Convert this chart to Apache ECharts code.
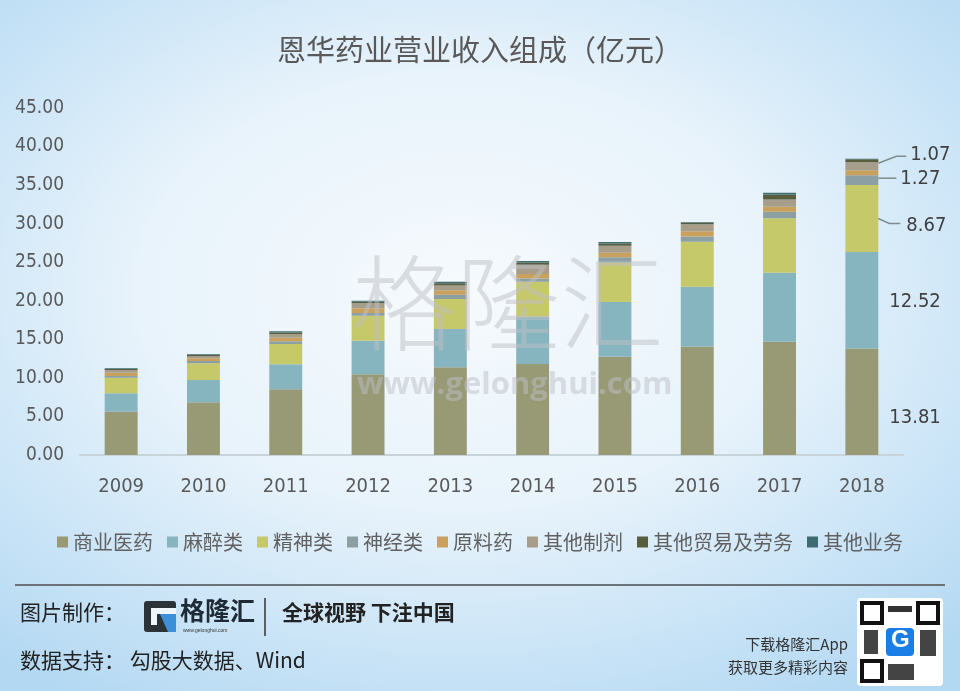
<!DOCTYPE html>
<html>
<head>
<meta charset="utf-8">
<script src="https://cdn.jsdelivr.net/npm/echarts@6/dist/echarts.min.js"></script>
<style>
html,body{margin:0;padding:0;}
body{width:960px;height:691px;overflow:hidden;
	background:radial-gradient(ellipse 75% 70% at 48% 42%, #f6fafd 0%, #e8f3fb 45%, #c6e2f6 80%, #b3d8f2 100%);}
#main{width:960px;height:691px;}
</style>
</head>
<body>
<div id="main"></div>
<script>
// 年份
var years=['2009','2010','2011','2012','2013','2014','2015','2016','2017','2018'];
// 各业务收入（亿元）
var shangye  =[5.62,6.83,8.52,10.47,11.37,11.80,12.75,14.05,14.70,13.81];
var mazui    =[2.38,2.90,3.24,4.36,4.97,6.14,7.09,7.78,8.95,12.52];
var jingshen =[2.03,2.16,2.64,3.24,3.89,4.54,5.10,5.84,7.05,8.67];
var shenjing =[0.20,0.30,0.35,0.35,0.55,0.40,0.70,0.65,0.85,1.27];
var yuanliao =[0.45,0.35,0.45,0.60,0.60,0.60,0.60,0.70,0.65,0.65];
var zhiji    =[0.35,0.30,0.50,0.65,0.60,1.20,0.90,0.90,0.95,1.07];
var maoyi    =[0.12,0.12,0.20,0.22,0.30,0.30,0.30,0.16,0.62,0.35];
var yewu     =[0.09,0.10,0.14,0.11,0.20,0.18,0.19,0.10,0.25,0.07];
var names=['商业医药','麻醉类','精神类','神经类','原料药','其他制剂','其他贸易及劳务','其他业务'];
var colors=['#979a74','#87b5bf','#c6c96a','#8c9fa3','#c9a15c','#a69e8a','#575e3e','#3d6d70'];
var yTicks=[0,5,10,15,20,25,30,35,40,45];

var numFont="'Liberation Sans Narrow','DejaVu Sans Condensed',sans-serif";
var cnFont="'Noto Sans CJK SC',sans-serif";

var allData=[shangye,mazui,jingshen,shenjing,yuanliao,zhiji,maoyi,yewu];
var series=[];
for(var i=0;i<names.length;i++){
	series.push({
		name:names[i],
		type:'bar',
		stack:'total',
		barWidth:'40%',
		itemStyle:{color:colors[i]},
		data:allData[i]
	});
}

var myChart=echarts.init(document.getElementById('main'),null,{renderer:'canvas'});
var option={
	backgroundColor:'transparent',
	animation:false,
	title:{
		text:'恩华药业营业收入组成（亿元）',
		left:'center',
		top:30,
		textStyle:{fontFamily:cnFont,fontSize:29,fontWeight:'normal',color:'#595959'}
	},
	grid:{left:80,right:57,top:108,bottom:236},
	legend:{
		data:names,
		left:'center',
		top:527,
		itemWidth:11,
		itemHeight:11,
		itemGap:14,
		icon:'rect',
		textStyle:{fontFamily:cnFont,fontSize:20,color:'#606060'}
	},
	xAxis:{
		type:'category',
		data:years,
		axisLine:{lineStyle:{color:'#c9d4da',width:2}},
		axisTick:{show:false},
		axisLabel:{margin:22,fontFamily:numFont,fontSize:20,color:'#595959'}
	},
	yAxis:{
		type:'value',
		min:yTicks[0],
		max:yTicks[yTicks.length-1],
		interval:5,
		axisLine:{show:false},
		axisTick:{show:false},
		splitLine:{show:false},
		axisLabel:{margin:16,fontFamily:numFont,fontSize:19,color:'#595959',
			formatter:function(v){return v.toFixed(2);}}
	},
	series:series
};
myChart.setOption(option);

// 2018年的数值标注，位置由坐标轴换算
var last=years.length-1;
var p0=myChart.convertToPixel({gridIndex:0},[years[last],0]);
var catW=myChart.getModel().getComponent('xAxis',0).axis.getBandWidth();
var xr=p0[0]+catW*0.2;
function segMid(k){
	var lo=0;
	for(var j=0;j<k;j++){lo+=allData[j][last];}
	var hi=lo+allData[k][last];
	return myChart.convertToPixel({gridIndex:0},[years[last],(lo+hi)/2])[1];
}
var lblStyle={fontFamily:numFont,fontSize:20,fill:'#404040'};
var lineStyle={stroke:'#7f8c8d',lineWidth:1.5,fill:null};
var m0=segMid(0),m1=segMid(1),m2=segMid(2),m3=segMid(3),m5=segMid(5);
var graphics=[
	{type:'text',left:xr+11,top:m0+6,style:Object.assign({text:shangye[last].toFixed(2)},lblStyle)},
	{type:'text',left:xr+11,top:m1-8,style:Object.assign({text:mazui[last].toFixed(2)},lblStyle)},
	{type:'polyline',shape:{points:[[xr,m2],[xr+11,m2+5],[xr+22,m2+5]]},style:lineStyle,z:10},
	{type:'text',left:xr+28,top:m2-3,style:Object.assign({text:jingshen[last].toFixed(2)},lblStyle)},
	{type:'polyline',shape:{points:[[xr,m3-2],[xr+18,m3-2]]},style:lineStyle,z:10},
	{type:'text',left:xr+22,top:m3-11,style:Object.assign({text:shenjing[last].toFixed(2)},lblStyle)},
	{type:'polyline',shape:{points:[[xr,m5-3],[xr+18,m5-10],[xr+28,m5-10]]},style:lineStyle,z:10},
	{type:'text',left:xr+32,top:m5-21,style:Object.assign({text:zhiji[last].toFixed(2)},lblStyle)},
	// 水印
	{type:'text',left:352,top:251,z:20,silent:true,
		style:{text:'格隆汇',font:'300 104px '+cnFont,fill:'rgba(190,192,198,0.5)'}},
	{type:'text',left:357,top:370,z:20,silent:true,
		style:{text:'www.gelonghui.com',font:'bold 31px "Open Sans",sans-serif',fill:'rgba(190,192,198,0.5)'}},
	// 底部
	{type:'line',shape:{x1:15,y1:585,x2:945,y2:585},style:{stroke:'#6b7278',lineWidth:2}},
	{type:'text',left:20,top:602,style:{text:'图片制作：',font:'21px '+cnFont,fill:'#222'}},
	{type:'rect',shape:{x:144,y:601,width:32,height:31,r:3},style:{fill:'#2b3238'}},
	{type:'polygon',shape:{points:[[160,614],[176,614],[176,632],[168,632]]},style:{fill:'#3c8fd8'}},
	{type:'rect',shape:{x:151,y:608,width:25,height:6},style:{fill:'#eef6fc'}},
	{type:'rect',shape:{x:151,y:608,width:6,height:17},style:{fill:'#eef6fc'}},
	{type:'text',left:180,top:598,style:{text:'格隆汇',font:'bold 25px '+cnFont,fill:'#1e2a36'}},
	{type:'text',left:183,top:628,style:{text:'www.gelonghui.com',font:'5px sans-serif',fill:'#333'}},
	{type:'line',shape:{x1:265,y1:598,x2:265,y2:636},style:{stroke:'#333',lineWidth:1.5}},
	{type:'text',left:282,top:602,style:{text:'全球视野 下注中国',font:'bold 21px '+cnFont,fill:'#222'}},
	{type:'text',left:20,top:650,style:{text:'数据支持： 勾股大数据、Wind',font:'21px '+cnFont,fill:'#222'}},
	{type:'text',right:112,top:637,style:{text:'下载格隆汇App',font:'15px '+cnFont,fill:'#333',align:'right'}},
	{type:'text',right:112,top:660,style:{text:'获取更多精彩内容',font:'15px '+cnFont,fill:'#333',align:'right'}},
	{type:'rect',shape:{x:857,y:598,width:86,height:88,r:4},style:{fill:'#ffffff'}},
	{type:'rect',shape:{x:862,y:603,width:20,height:20},style:{fill:'none',stroke:'#111',lineWidth:4}},
	{type:'rect',shape:{x:918,y:603,width:20,height:20},style:{fill:'none',stroke:'#111',lineWidth:4}},
	{type:'rect',shape:{x:862,y:661,width:20,height:20},style:{fill:'none',stroke:'#111',lineWidth:4}},
	{type:'rect',shape:{x:888,y:606,width:24,height:6},style:{fill:'#333'}},
	{type:'rect',shape:{x:864,y:630,width:14,height:24},style:{fill:'#444'}},
	{type:'rect',shape:{x:920,y:630,width:16,height:26},style:{fill:'#444'}},
	{type:'rect',shape:{x:888,y:664,width:26,height:16},style:{fill:'#444'}},
	{type:'rect',shape:{x:886,y:628,width:28,height:28,r:4},style:{fill:'#1b7ee6'}},
	{type:'text',left:891,top:628,style:{text:'G',font:'bold 24px sans-serif',fill:'#fff'}}
];
myChart.setOption({graphic:graphics});
</script>
</body>
</html>
